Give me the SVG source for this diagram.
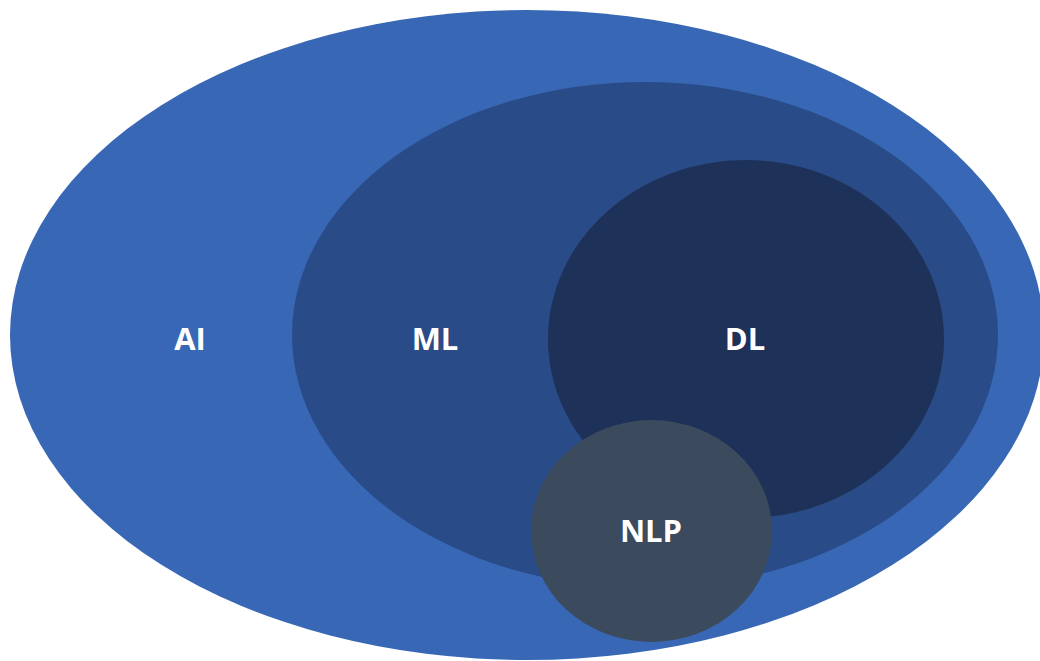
<svg xmlns="http://www.w3.org/2000/svg" width="1040" height="661" viewBox="0 0 1040 661">
  <style>
    .label { font-family: "Open Sans", "Liberation Sans", sans-serif; font-weight: 700; font-size: 31px; fill: #ffffff; text-anchor: middle; }
  </style>
  <rect width="1040" height="661" fill="#ffffff"/>
  <!-- nested sets: AI contains ML contains DL; NLP overlaps -->
  <g id="ai">
    <ellipse cx="527" cy="335" rx="517" ry="325" fill="#3868B5"/>
    <text class="label" x="190" y="350">AI</text>
  </g>
  <g id="ml">
    <ellipse cx="645" cy="335" rx="353" ry="253" fill="#294C88"/>
    <text class="label" x="435" y="350">ML</text>
  </g>
  <g id="dl">
    <ellipse cx="746" cy="339" rx="198" ry="179" fill="#1E3158"/>
    <text class="label" x="745" y="350">DL</text>
  </g>
  <g id="nlp">
    <ellipse cx="651.5" cy="531" rx="120.5" ry="111" fill="#3B4A5C"/>
    <text class="label" x="651" y="542">NLP</text>
  </g>
  <g id="connectors"/>
</svg>
